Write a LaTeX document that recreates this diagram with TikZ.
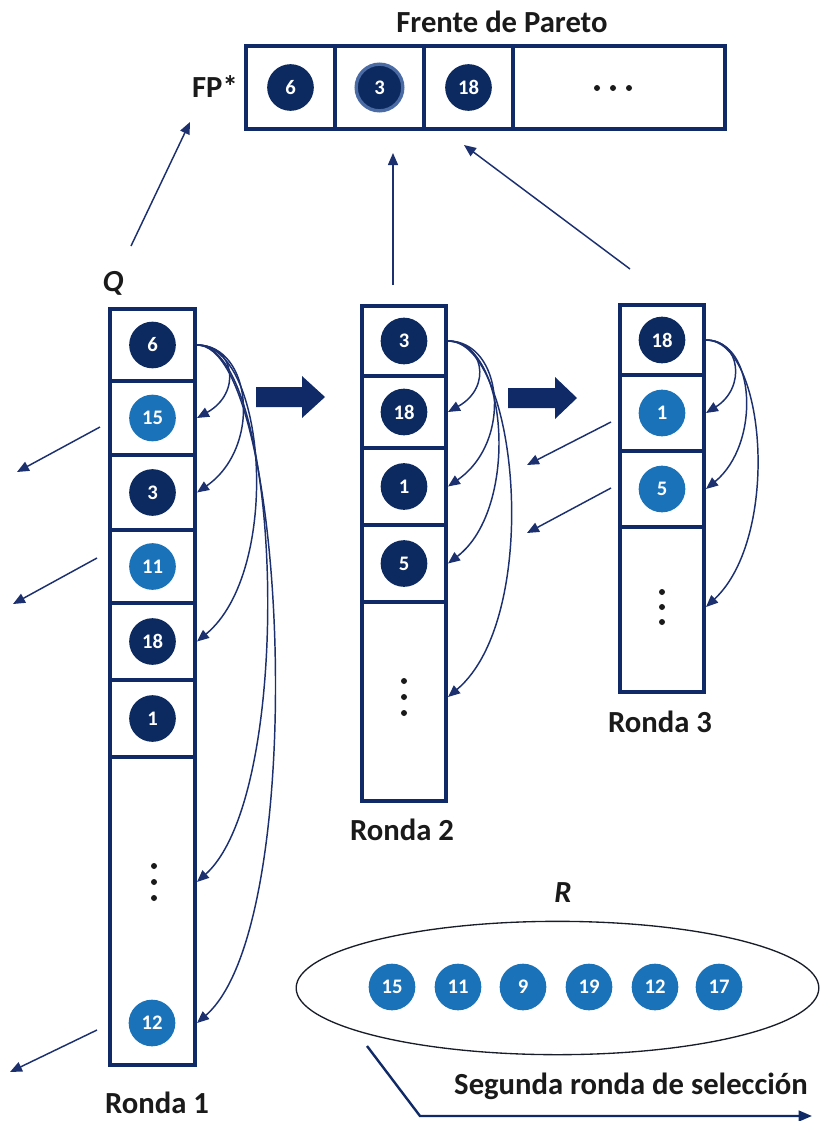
\documentclass[tikz,border=0pt]{standalone}
\usepackage{fontspec}
\setmainfont{Carlito}
\usetikzlibrary{arrows.meta,fit,shapes.geometric}
\definecolor{navy}{HTML}{0F2A66}
\definecolor{ink}{HTML}{0C2A5F}
\definecolor{sky}{HTML}{1A72B8}
\definecolor{ring}{HTML}{4B6BA5}
\definecolor{linecol}{HTML}{1C3070}
\definecolor{txt}{HTML}{1A1A1A}

\begin{document}
\begin{tikzpicture}[x=0.75pt,y=-0.75pt,
  cell/.style={draw=navy,line width=3pt,inner sep=0pt,rectangle},
  ball/.style={circle,minimum size=35pt,inner sep=0pt,text=white,
    font=\bfseries\fontsize{15.5}{15.5}\selectfont},
  dark/.style={ball,fill=ink},
  light/.style={ball,fill=sky},
  dot/.style={circle,fill=txt,minimum size=4.5pt,inner sep=0pt},
  lbl/.style={font=\bfseries\fontsize{23}{23}\selectfont,text=txt,inner sep=1pt},
  ilbl/.style={font=\bfseries\itshape\fontsize{23}{23}\selectfont,text=txt,inner sep=1pt},
  thin/.style={draw=linecol,line width=1.1pt,-{Triangle[length=9pt,width=7.5pt]}},
  swing/.style={draw=linecol,line width=1.1pt,-{Triangle[length=9pt,width=7.5pt]}},
  block/.style={fill=navy}
]
\useasboundingbox (0,0) rectangle (835,1121);

% ---------- Pareto front ----------
\node[lbl] (fptitle) at (502,22) {Frente de Pareto};
\node[lbl] (fpstar) at (215,87) {FP*};
\node[cell,fit={(246,46)(335,129)}] (fpa) {};
\node[cell,fit={(335,46)(424,129)}] (fpb) {};
\node[cell,fit={(424,46)(513,129)}] (fpc) {};
\node[cell,fit={(513,46)(725,129)}] (fpd) {};
\node[dark] (f6) at (fpa) {6};
\node[dark,draw=ring,line width=2.5pt] (f3) at (fpb) {3};
\node[dark] (f18) at (fpc) {18};
\node[dot] (fd1) at (597,88) {};
\node[dot] (fd2) at (613,88) {};
\node[dot] (fd3) at (629,88) {};

% ---------- Round 1 ----------
\node[ilbl] (qlbl) at (113,283) {Q};
\node[cell,fit={(110,309)(195,381)}] (r1a) {};
\node[cell,fit={(110,381)(195,455)}] (r1b) {};
\node[cell,fit={(110,455)(195,530)}] (r1c) {};
\node[cell,fit={(110,530)(195,603)}] (r1d) {};
\node[cell,fit={(110,603)(195,680)}] (r1e) {};
\node[cell,fit={(110,680)(195,757)}] (r1f) {};
\node[cell,fit={(110,757)(195,1065)}] (r1g) {};
\node[dark] (a6) at (r1a) {6};
\node[light] (a15) at (r1b) {15};
\node[dark] (a3) at (r1c) {3};
\node[light] (a11) at (r1d) {11};
\node[dark] (a18) at (r1e) {18};
\node[dark] (a1) at (r1f) {1};
\node[dot] (d1a) at (154,866) {};
\node[dot] (d1b) at (154,882) {};
\node[dot] (d1c) at (154,898) {};
\node[light] (a12) at (152,1023) {12};
\node[lbl] (ronda1) at (157,1103) {Ronda 1};

% ---------- Round 2 ----------
\node[cell,fit={(362,306)(446,376)}] (r2a) {};
\node[cell,fit={(362,376)(446,448)}] (r2b) {};
\node[cell,fit={(362,448)(446,525)}] (r2c) {};
\node[cell,fit={(362,525)(446,602)}] (r2d) {};
\node[cell,fit={(362,602)(446,801)}] (r2e) {};
\node[dark] (b3) at (r2a) {3};
\node[dark] (b18) at (r2b) {18};
\node[dark] (b1) at (r2c) {1};
\node[dark] (b5) at (r2d) {5};
\node[dot] (d2a) at (404,681) {};
\node[dot] (d2b) at (404,697) {};
\node[dot] (d2c) at (404,713) {};
\node[lbl] (ronda2) at (402,830) {Ronda 2};

% ---------- Round 3 ----------
\node[cell,fit={(620,305)(704,375)}] (r3a) {};
\node[cell,fit={(620,375)(704,451)}] (r3b) {};
\node[cell,fit={(620,451)(704,527)}] (r3c) {};
\node[cell,fit={(620,527)(704,692)}] (r3d) {};
\node[dark] (c18) at (r3a) {18};
\node[light] (c1) at (r3b) {1};
\node[light] (c5) at (r3c) {5};
\node[dot] (d3a) at (662,592) {};
\node[dot] (d3b) at (662,607) {};
\node[dot] (d3c) at (662,622) {};
\node[lbl] (ronda3) at (660,722) {Ronda 3};

% ---------- Block arrows between rounds ----------
\fill[block] (256,387) -- (302,387) -- (302,376) -- (325,397) -- (302,418)
  -- (302,407) -- (256,407) -- cycle;
\fill[block] (508,388) -- (555,388) -- (555,377) -- (577,398) -- (555,419)
  -- (555,408) -- (508,408) -- cycle;

% ---------- Comparisons within each round ----------
\draw[swing] (r1a.east) .. controls +(38,0) and +(45,-25) .. (r1b.east);
\draw[swing] (r1a.east) .. controls +(55,0) and +(65,-45) .. (r1c.east);
\draw[swing] (r1a.east) .. controls +(70,0) and +(85,-70) .. (r1e.east);
\draw[swing] (r1a.east) .. controls +(85,0) and +(100,-90) .. (d1b -| r1g.east);
\draw[swing] (r1a.east) .. controls +(90,0) and +(115,-100) .. (a12 -| r1g.east);

\draw[swing] (r2a.east) .. controls +(35,0) and +(45,-25) .. (r2b.east);
\draw[swing] (r2a.east) .. controls +(55,0) and +(65,-45) .. (r2c.east);
\draw[swing] (r2a.east) .. controls +(60,0) and +(72,-55) .. (r2d.east);
\draw[swing] (r2a.east) .. controls +(70,0) and +(95,-80) .. (d2b -| r2e.east);

\draw[swing] (r3a.east) .. controls +(35,0) and +(40,-25) .. (r3b.east);
\draw[swing] (r3a.east) .. controls +(50,0) and +(55,-45) .. (r3c.east);
\draw[swing] (r3a.east) .. controls +(60,0) and +(75,-70) .. (d3b -| r3d.east);

% ---------- Moves towards the front ----------
\coordinate (q0) at (131,246);
\coordinate (q1) at (190,122);
\coordinate (v0) at (393,285);
\coordinate (v1) at (393,153);
\coordinate (w0) at (630,269);
\coordinate (w1) at (464,145);
\draw[thin] (q0) -- (q1);
\draw[thin] (v0) -- (v1);
\draw[thin] (w0) -- (w1);

% ---------- Discarded solutions ----------
\coordinate (l1s) at (100,427); \coordinate (l1e) at (17,472);
\coordinate (l2s) at (97,558);  \coordinate (l2e) at (13,604);
\coordinate (l3s) at (97,1030); \coordinate (l3e) at (10,1072);
\coordinate (l4s) at (611,422); \coordinate (l4e) at (527,465);
\coordinate (l5s) at (611,488); \coordinate (l5e) at (527,533);
\draw[thin] (l1s) -- (l1e);
\draw[thin] (l2s) -- (l2e);
\draw[thin] (l3s) -- (l3e);
\draw[thin] (l4s) -- (l4e);
\draw[thin] (l5s) -- (l5e);

% ---------- Set R ----------
\node[ilbl] (rlbl) at (563,893) {R};
\node[ellipse,draw=txt!80!navy,line width=1pt,minimum width=392pt,
  minimum height=100pt,inner sep=0pt] (rset) at (557.5,988) {};
\node[light] (e15) at (392,987) {15};
\node[light] (e11) at (458,987) {11};
\node[light] (e9)  at (523,987) {9};
\node[light] (e19) at (589,987) {19};
\node[light] (e12) at (655,987) {12};
\node[light] (e17) at (719,987) {17};

\coordinate (s0) at (367,1046);
\coordinate (s1) at (420,1116);
\coordinate (s2) at (812,1116);
\draw[draw=navy,line width=1.8pt,-{Triangle[length=10pt,width=8pt]}] (s0) -- (s1) -- (s2);
\node[lbl] (segunda) at (631,1086) {Segunda ronda de selección};
\end{tikzpicture}
\end{document}
